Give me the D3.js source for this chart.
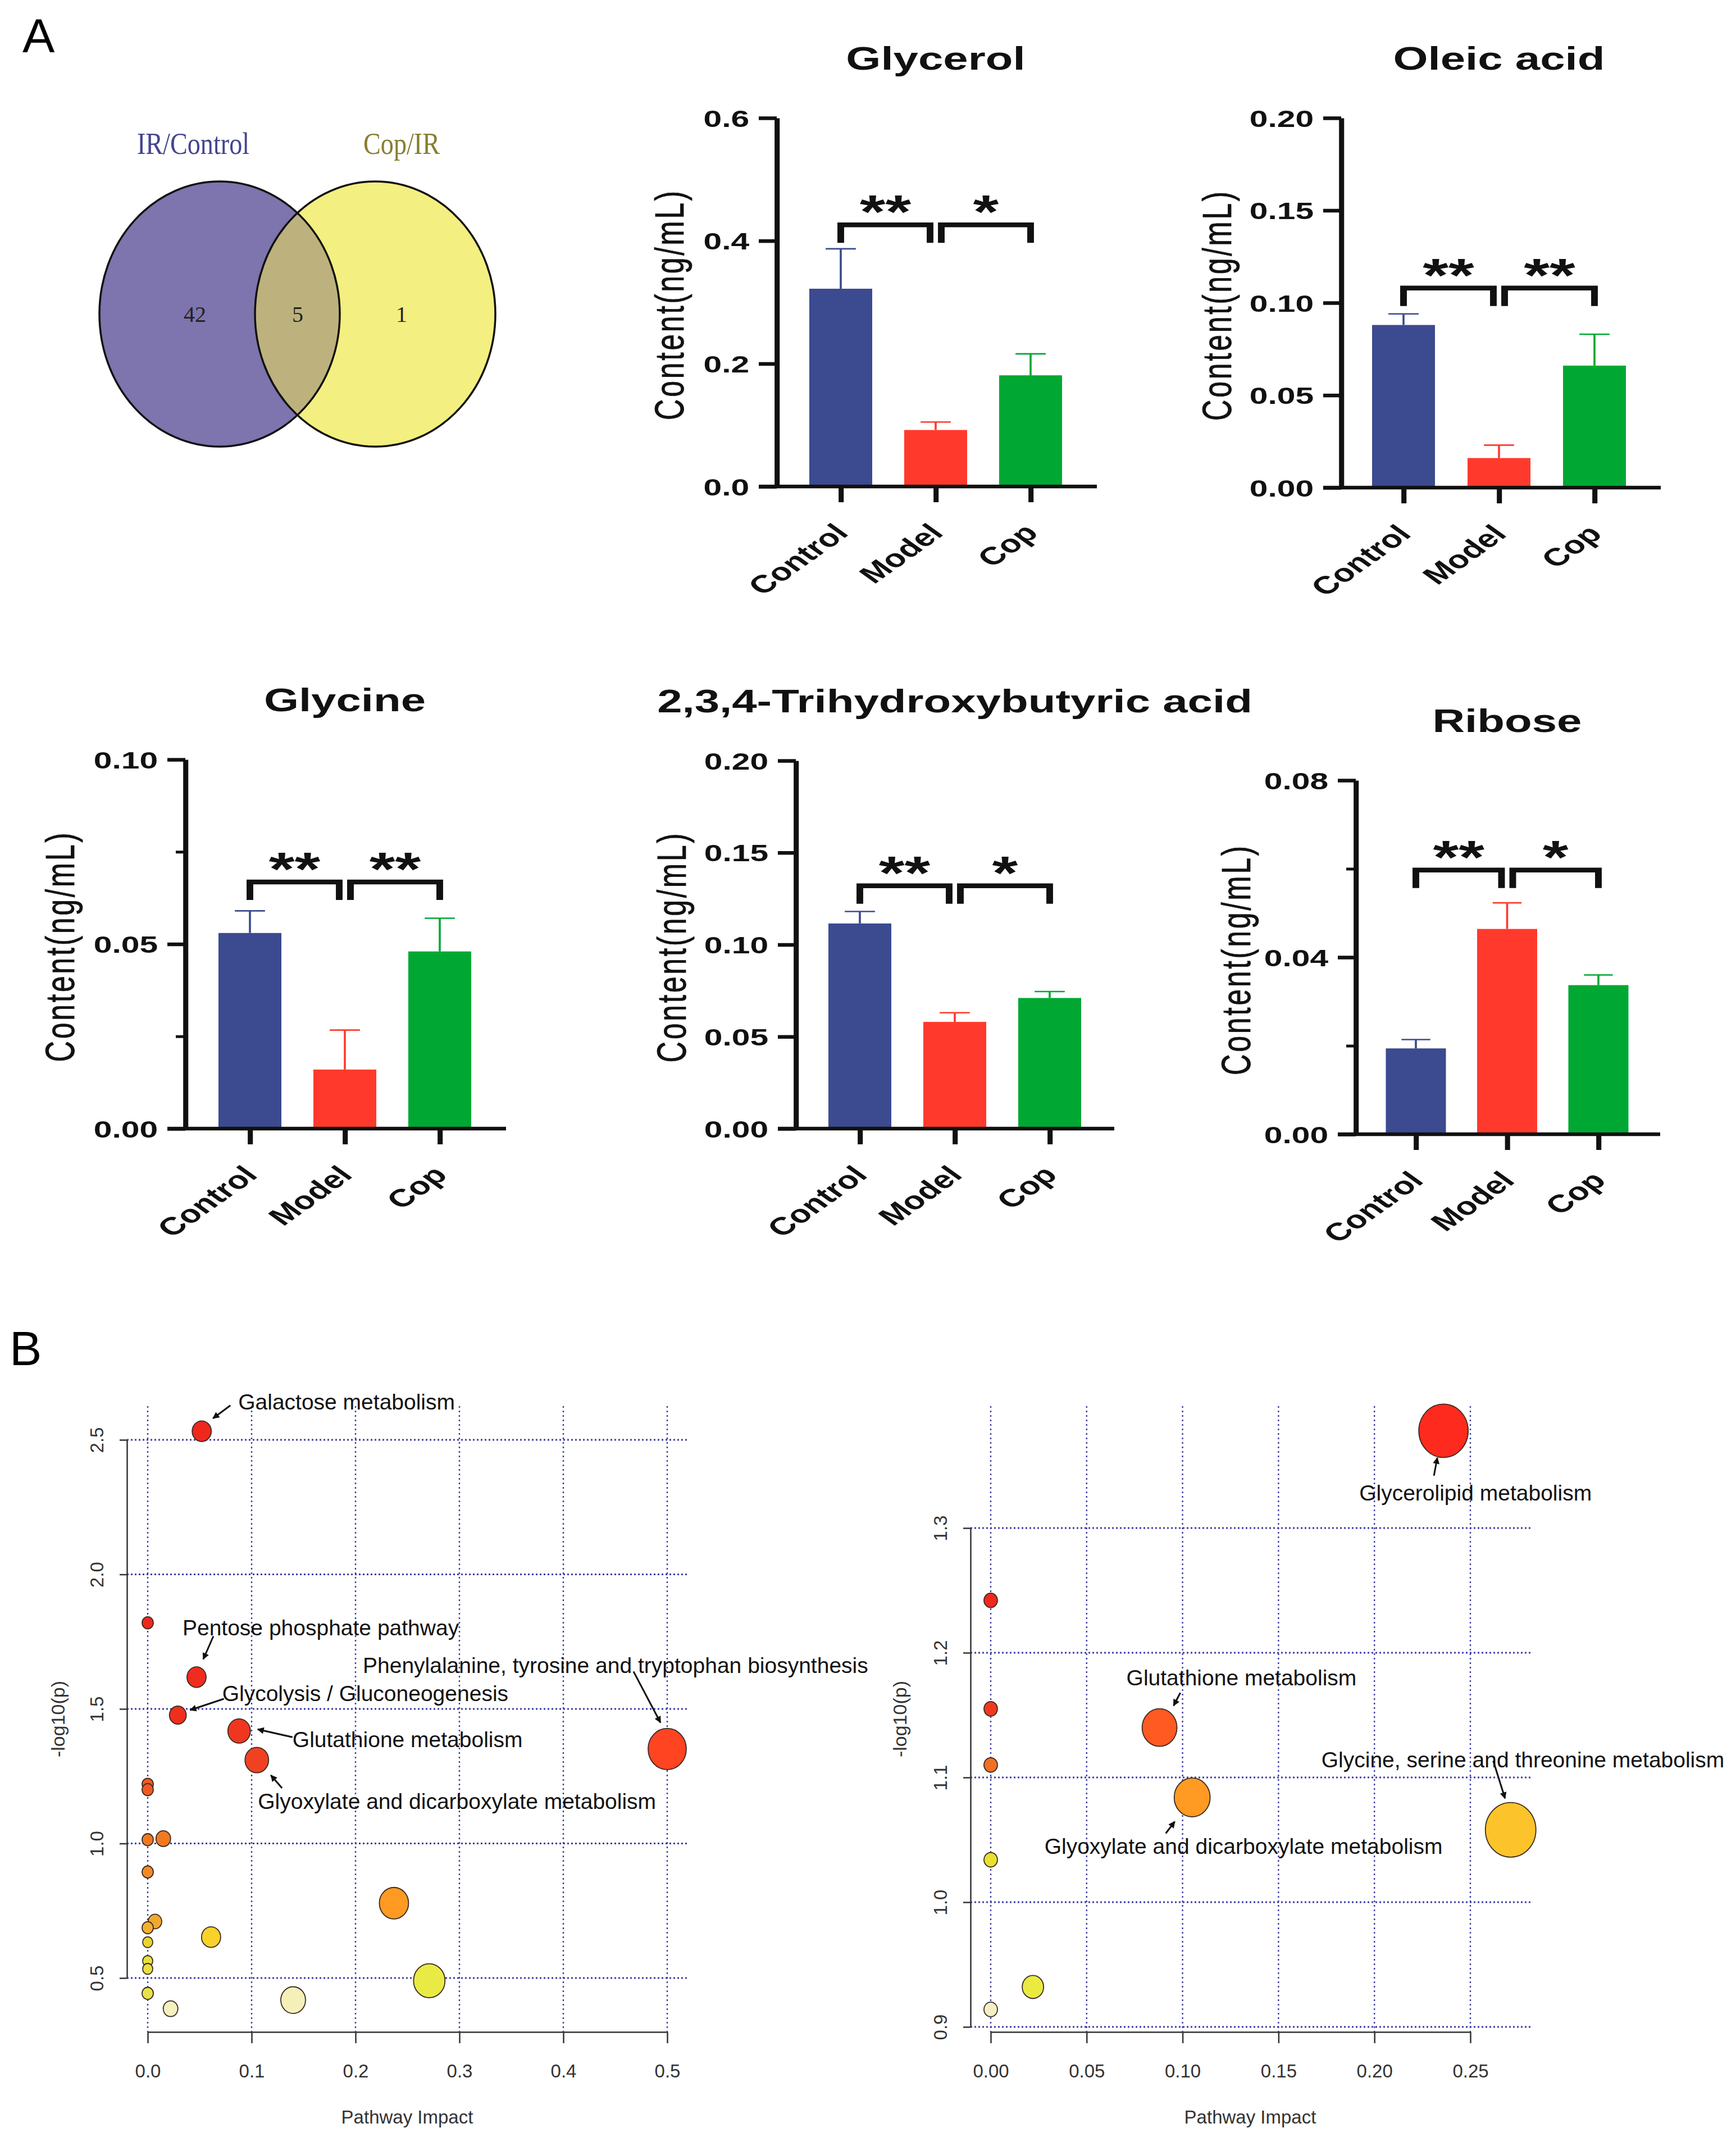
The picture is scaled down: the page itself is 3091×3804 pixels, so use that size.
<!DOCTYPE html>
<html>
<head>
<meta charset="utf-8">
<script src="https://cdn.jsdelivr.net/npm/d3@7"></script>
<style>
  body { margin: 0; background: #fff; }
  svg { display: block; }
</style>
</head>
<body>
<svg id="fig"></svg>
<script>
// ---- data ----
const vennSets = ["IR/Control", "Cop/IR"];
const vennCounts = [42, 5, 1];

const groups = ["Control", "Model", "Cop"];
const groupColors = ["#3c4a8f", "#ff3a2c", "#00a833"];

const glycerolMean = [0.322, 0.092, 0.181];
const glycerolErr = [0.065, 0.013, 0.035];
const oleicMean = [0.088, 0.016, 0.066];
const oleicErr = [0.006, 0.007, 0.017];
const glycineMean = [0.053, 0.016, 0.048];
const glycineErr = [0.006, 0.0107, 0.009];
const thbaMean = [0.1115, 0.058, 0.071];
const thbaErr = [0.0065, 0.005, 0.0035];
const riboseMean = [0.0194, 0.0464, 0.0337];
const riboseErr = [0.002, 0.0059, 0.0023];

const glycerolSig = ["**", "*"];
const oleicSig = ["**", "**"];
const glycineSig = ["**", "**"];
const thbaSig = ["**", "*"];
const riboseSig = ["**", "*"];

// bubble plots (pathway impact, -log10 p, node size)
const leftImpact = [0.052, 0, 0.047, 0.029, 0.088, 0.105, 0.5, 0, 0, 0, 0.015, 0, 0.007, 0, 0, 0, 0, 0, 0.022, 0.061, 0.237, 0.271, 0.14];
const leftLogP = [2.532, 1.82, 1.618, 1.477, 1.418, 1.31, 1.351, 1.22, 1.2, 1.014, 1.018, 0.894, 0.71, 0.687, 0.633, 0.563, 0.534, 0.443, 0.386, 0.652, 0.778, 0.49, 0.418];
const leftSize = [17, 10, 17, 15, 20, 21, 34, 10, 10, 10, 13, 10, 12, 10, 9, 9, 9, 10, 13, 17, 26, 28, 22];
const leftFill = ["#f0281c", "#f0281c", "#f02c1e", "#f02e1e", "#f0361f", "#f04222", "#ff4422", "#f05a22", "#f05a22", "#f07822", "#f07a22", "#f08a24", "#f0a830", "#f0b030", "#e8d432", "#e8e040", "#e8e040", "#e8e24a", "#f5f0c0", "#f8d228", "#ff9a22", "#eaea44", "#f5f0b8"];
const leftNames = ["Galactose metabolism", "Pentose phosphate pathway", "Glycolysis / Gluconeogenesis", "Glutathione metabolism", "Glyoxylate and dicarboxylate metabolism", "Phenylalanine, tyrosine and tryptophan biosynthesis"];
const leftNameIdx = [0, 2, 3, 4, 5, 6];

const rightImpact = [0.236, 0, 0, 0, 0.088, 0.105, 0.271, 0, 0.022, 0];
const rightLogP = [1.378, 1.242, 1.155, 1.11, 1.14, 1.084, 1.058, 1.034, 0.932, 0.914];
const rightSize = [44, 12, 12, 12, 31, 32, 45, 12, 19, 12];
const rightFill = ["#ff2a1e", "#f0281c", "#f03a20", "#f07024", "#ff5a22", "#ff9a22", "#fcc42a", "#e8e030", "#eaea40", "#f5f0c4"];
const rightNames = ["Glycerolipid metabolism", "Glutathione metabolism", "Glyoxylate and dicarboxylate metabolism", "Glycine, serine and threonine metabolism"];
const rightNameIdx = [0, 4, 5, 6];

// ---- layout ----
const W = 3091, H = 3804;
const SX = 1.4; // bar panels are horizontally stretched
const svg = d3.select("#fig").attr("width", W).attr("height", H);
svg.append("rect").attr("width", W).attr("height", H).attr("fill", "#fff");

svg.append("text").attr("x", 40).attr("y", 93).text("A")
    .attr("font-family", "Liberation Sans, Arial").attr("font-size", 86);
svg.append("text").attr("x", 17).attr("y", 2430).text("B")
    .attr("font-family", "Liberation Sans, Arial").attr("font-size", 86);

// ---- venn ----
const venn = [{cx: 391, fill: "#7e74ae"}, {cx: 668, fill: "#f3ef80"}];
const vcy = 559, vrx = 214, vry = 236;
svg.append("clipPath").attr("id", "rightSet")
    .append("ellipse").attr("cx", venn[1].cx).attr("cy", vcy).attr("rx", vrx).attr("ry", vry);
svg.selectAll("ellipse.set").data(venn).join("ellipse")
    .attr("class", "set")
    .attr("cx", d => d.cx).attr("cy", vcy).attr("rx", vrx).attr("ry", vry)
    .attr("fill", d => d.fill);
svg.append("ellipse")
    .attr("cx", venn[0].cx).attr("cy", vcy).attr("rx", vrx).attr("ry", vry)
    .attr("fill", "#bdb27d").attr("clip-path", "url(#rightSet)");
svg.selectAll("ellipse.edge").data(venn).join("ellipse")
    .attr("class", "edge")
    .attr("cx", d => d.cx).attr("cy", vcy).attr("rx", vrx).attr("ry", vry)
    .attr("fill", "none").attr("stroke", "#111").attr("stroke-width", 3.5);

svg.selectAll("text.vset").data(vennSets).join("text")
    .attr("class", "vset")
    .attr("transform", (d, i) => `translate(${[344, 715][i]},274) scale(0.84,1)`)
    .attr("text-anchor", "middle")
    .attr("font-family", "Liberation Serif, serif").attr("font-size", 55)
    .attr("fill", (d, i) => ["#45458f", "#867f30"][i])
    .text(d => d);
svg.selectAll("text.vnum").data(vennCounts).join("text")
    .attr("class", "vnum")
    .attr("x", (d, i) => [347, 530, 715][i]).attr("y", vcy + 14)
    .attr("text-anchor", "middle")
    .attr("font-family", "Liberation Serif, serif").attr("font-size", 40)
    .attr("fill", "#222")
    .text(d => d);

// ---- bar panels ----
const panels = [
  {title: "Glycerol", mean: glycerolMean, err: glycerolErr, sig: glycerolSig, level: 0.426, yMax: 0.6, major: [0, 0.2, 0.4, 0.6], minor: [], fmt: ".1f"},
  {title: "Oleic acid", mean: oleicMean, err: oleicErr, sig: oleicSig, level: 0.108, yMax: 0.2, major: [0, 0.05, 0.1, 0.15, 0.2], minor: [], fmt: ".2f"},
  {title: "Glycine", mean: glycineMean, err: glycineErr, sig: glycineSig, level: 0.0668, yMax: 0.1, major: [0, 0.05, 0.1], minor: [0.025, 0.075], fmt: ".2f"},
  {title: "2,3,4-Trihydroxybutyric acid", mean: thbaMean, err: thbaErr, sig: thbaSig, level: 0.132, yMax: 0.2, major: [0, 0.05, 0.1, 0.15, 0.2], minor: [], fmt: ".2f"},
  {title: "Ribose", mean: riboseMean, err: riboseErr, sig: riboseSig, level: 0.0597, yMax: 0.08, major: [0, 0.04, 0.08], minor: [0.02, 0.06], fmt: ".2f"}
];
const panelLayout = [
  {x0: 1383, y0: 866, yTop: 210, span: [114, 452], barW: 112, lab: -190, axEnd: 570},
  {x0: 2388, y0: 868, yTop: 210, span: [111, 451], barW: 112, lab: -220, axEnd: 569},
  {x0: 330, y0: 2009, yTop: 1352, span: [115, 453], barW: 112, lab: -222, axEnd: 571},
  {x0: 1417, y0: 2009, yTop: 1354, span: [114, 452], barW: 112, lab: -220, axEnd: 567},
  {x0: 2414, y0: 2019, yTop: 1389, span: [107, 432], barW: 107, lab: -212, axEnd: 542}
];
const sans = "Liberation Sans, Arial, sans-serif";

function drawBar(p, L) {
  const g = svg.append("g").attr("transform", `translate(${L.x0},0) scale(${SX},1)`);
  const x = d3.scalePoint().domain(groups).range([L.span[0] / SX, L.span[1] / SX]);
  const y = d3.scaleLinear().domain([0, p.yMax]).range([L.y0, L.yTop]);
  const bw = L.barW / SX;

  // bars
  g.selectAll("rect.bar").data(p.mean).join("rect")
      .attr("class", "bar")
      .attr("x", (d, i) => x(groups[i]) - bw / 2)
      .attr("y", d => y(d))
      .attr("width", bw)
      .attr("height", d => L.y0 - y(d))
      .attr("fill", (d, i) => groupColors[i]);

  // error bars (upper half only)
  const eb = g.selectAll("g.err").data(p.mean).join("g").attr("class", "err")
      .attr("stroke", (d, i) => groupColors[i]).attr("stroke-width", 2.6);
  eb.append("line")
      .attr("x1", (d, i) => x(groups[i])).attr("x2", (d, i) => x(groups[i]))
      .attr("y1", d => y(d)).attr("y2", (d, i) => y(d + p.err[i]));
  eb.append("line")
      .attr("x1", (d, i) => x(groups[i]) - bw * 0.24).attr("x2", (d, i) => x(groups[i]) + bw * 0.24)
      .attr("y1", (d, i) => y(d + p.err[i])).attr("y2", (d, i) => y(d + p.err[i]));

  // y axis
  const ya = g.append("g")
      .call(d3.axisLeft(y).tickValues(p.major).tickSize(32 / SX).tickSizeOuter(0)
          .tickPadding(12).tickFormat(d3.format(p.fmt)));
  ya.selectAll("path, line").attr("stroke", "#111").attr("stroke-width", 6.5);
  ya.selectAll("text").attr("font-family", sans).attr("font-weight", "bold")
      .attr("font-size", 42).attr("fill", "#111").attr("dy", "0.36em");
  if (p.minor.length) {
    const ym = g.append("g")
        .call(d3.axisLeft(y).tickValues(p.minor).tickSize(17 / SX).tickFormat(""));
    ym.select(".domain").remove();
    ym.selectAll("line").attr("stroke", "#111").attr("stroke-width", 5);
  }

  // x axis
  g.append("line").attr("x1", -32 / SX).attr("x2", L.axEnd / SX)
      .attr("y1", L.y0).attr("y2", L.y0)
      .attr("stroke", "#111").attr("stroke-width", 6.5);
  const xa = g.append("g").attr("transform", `translate(0,${L.y0})`)
      .call(d3.axisBottom(x).tickSize(28).tickSizeOuter(0));
  xa.select(".domain").remove();
  xa.selectAll("line").attr("stroke", "#111").attr("stroke-width", 6.5);
  xa.selectAll("text")
      .attr("y", 0).attr("dy", 0)
      .attr("text-anchor", "end")
      .attr("transform", "translate(11,85) rotate(-45)")
      .attr("font-family", sans).attr("font-weight", "bold")
      .attr("font-size", 44).attr("fill", "#111");

  // title
  g.append("text").attr("x", x("Model")).attr("y", L.yTop - 86)
      .attr("text-anchor", "middle")
      .attr("font-family", sans).attr("font-weight", "bold").attr("font-size", 57)
      .attr("fill", "#111").text(p.title);

  // y label
  g.append("text")
      .attr("transform", `translate(${L.lab / SX},${(L.y0 + L.yTop) / 2 + 6}) rotate(-90)`)
      .attr("text-anchor", "middle").attr("dy", "0.33em")
      .attr("font-family", sans).attr("font-size", 52).attr("fill", "#111")
      .attr("stroke", "#111").attr("stroke-width", 0.6)
      .attr("textLength", 408).attr("lengthAdjust", "spacing")
      .text("Content(ng/mL)");

  // significance brackets
  const by = y(p.level);
  const gap = 10 / SX;
  const br = [[x("Control"), x("Model") - gap], [x("Model") + gap, x("Cop")]];
  g.selectAll("path.br").data(br).join("path")
      .attr("class", "br")
      .attr("d", d => `M${d[0]},${by + 32}V${by}H${d[1]}V${by + 32}`)
      .attr("fill", "none").attr("stroke", "#111").attr("stroke-width", 8.5);
  g.selectAll("text.sig").data(p.sig).join("text")
      .attr("class", "sig")
      .attr("x", (d, i) => (br[i][0] + br[i][1]) / 2)
      .attr("y", by + 6)
      .attr("text-anchor", "middle")
      .attr("font-family", sans).attr("font-weight", "bold").attr("font-size", 84)
      .attr("fill", "#111").text(d => d);
}
panels.forEach((p, i) => drawBar(p, panelLayout[i]));

// ---- bubble plots ----
const marker = svg.append("defs").append("marker")
    .attr("id", "arr").attr("viewBox", "0 0 10 10").attr("refX", 9).attr("refY", 5)
    .attr("markerWidth", 14).attr("markerHeight", 12).attr("markerUnits", "userSpaceOnUse")
    .attr("orient", "auto");
marker.append("path").attr("d", "M0,0L10,5L0,10z").attr("fill", "#111");

const bubbleLayout = [
  {impact: leftImpact, logp: leftLogP, size: leftSize, fill: leftFill, names: leftNames, idx: leftNameIdx,
   xDom: [0, 0.5], xRange: [263, 1188], yDom: [0.5, 2.5], yRange: [3521, 2563],
   xTicks: [0, 0.1, 0.2, 0.3, 0.4, 0.5], yTicks: [0.5, 1, 1.5, 2, 2.5], xFmt: ".1f", yFmt: ".1f",
   axisX: 226, axisY: 3617, gridL: 226, gridR: 1226, gridTop: 2503, ylabX: 103, xlabX: 725,
   notes: [
     {tx: 65, ty: -39, a: [51, -46, 20, -23]},
     {tx: -25, ty: -74, a: [30, -73, 12, -32]},
     {tx: 79, ty: -25, a: [82, -29, 22, -9]},
     {tx: 95, ty: 29, a: [95, 11, 33, -3]},
     {tx: 2, ty: 87, a: [45, 50, 25, 27]},
     {tx: -542, ty: -135, a: [-60, -138, -12, -47]}
   ]},
  {impact: rightImpact, logp: rightLogP, size: rightSize, fill: rightFill, names: rightNames, idx: rightNameIdx,
   xDom: [0, 0.25], xRange: [1764, 2618], yDom: [0.9, 1.3], yRange: [3608, 2720],
   xTicks: [0, 0.05, 0.1, 0.15, 0.2, 0.25], yTicks: [0.9, 1.0, 1.1, 1.2, 1.3], xFmt: ".2f", yFmt: ".1f",
   axisX: 1728, axisY: 3617, gridL: 1728, gridR: 2728, gridTop: 2503, ylabX: 1602, xlabX: 2226,
   notes: [
     {tx: -150, ty: 124, a: [-17, 80, -11, 48]},
     {tx: -59, ty: -75, a: [37, -62, 25, -39]},
     {tx: -263, ty: 100, a: [-47, 64, -31, 43]},
     {tx: -337, ty: -111, a: [-31, -123, -10, -56]}
   ]}
];

function drawBubble(B) {
  const x = d3.scaleLinear().domain(B.xDom).range(B.xRange);
  const y = d3.scaleLinear().domain(B.yDom).range(B.yRange);
  const g = svg.append("g");

  // dotted grid
  g.selectAll("line.vg").data(B.xTicks).join("line").attr("class", "vg")
      .attr("x1", d => x(d)).attr("x2", d => x(d))
      .attr("y1", B.gridTop).attr("y2", B.axisY)
      .attr("stroke", "#3d3da6").attr("stroke-width", 2.4).attr("stroke-dasharray", "3,5");
  g.selectAll("line.hg").data(B.yTicks).join("line").attr("class", "hg")
      .attr("x1", B.gridL).attr("x2", B.gridR)
      .attr("y1", d => y(d)).attr("y2", d => y(d))
      .attr("stroke", "#3d3da6").attr("stroke-width", 2.8).attr("stroke-dasharray", "3,4");

  // axes
  const ya = g.append("g").attr("transform", `translate(${B.axisX},0)`)
      .call(d3.axisLeft(y).tickValues(B.yTicks).tickSize(13).tickSizeOuter(0).tickFormat(d3.format(B.yFmt)));
  ya.selectAll("path, line").attr("stroke", "#333").attr("stroke-width", 2.5);
  ya.selectAll("text")
      .attr("transform", "rotate(-90)").attr("x", 0).attr("y", -42).attr("dy", 0)
      .attr("text-anchor", "middle")
      .attr("font-family", sans).attr("font-size", 33).attr("fill", "#333");
  const xa = g.append("g").attr("transform", `translate(0,${B.axisY})`)
      .call(d3.axisBottom(x).tickValues(B.xTicks).tickSize(20).tickSizeOuter(0)
          .tickPadding(38).tickFormat(d3.format(B.xFmt)));
  xa.selectAll("path, line").attr("stroke", "#333").attr("stroke-width", 2.5);
  xa.selectAll("text").attr("font-family", sans).attr("font-size", 33).attr("fill", "#333");

  g.append("text").attr("x", B.xlabX).attr("y", 3780).attr("text-anchor", "middle")
      .attr("font-family", sans).attr("font-size", 33).attr("fill", "#333").text("Pathway Impact");
  g.append("text").attr("transform", `translate(${B.ylabX},3060) rotate(-90)`)
      .attr("text-anchor", "middle").attr("dy", "0.35em")
      .attr("font-family", sans).attr("font-size", 34).attr("fill", "#333").text("-log10(p)");

  // bubbles
  const pts = B.impact.map((v, i) => ({x: v, y: B.logp[i], r: B.size[i], c: B.fill[i]}));
  g.selectAll("ellipse.node").data(pts).join("ellipse").attr("class", "node")
      .attr("cx", d => x(d.x)).attr("cy", d => y(d.y))
      .attr("rx", d => d.r).attr("ry", d => d.r * 1.08)
      .attr("fill", d => d.c).attr("stroke", "#3a2a22").attr("stroke-width", 1.8);

  // annotations
  B.names.forEach((name, k) => {
    const d = pts[B.idx[k]];
    const cx = x(d.x), cy = y(d.y);
    const n = B.notes[k];
    g.append("text").attr("x", cx + n.tx).attr("y", cy + n.ty)
        .attr("font-family", sans).attr("font-size", 39).attr("fill", "#111").text(name);
    g.append("line")
        .attr("x1", cx + n.a[0]).attr("y1", cy + n.a[1])
        .attr("x2", cx + n.a[2]).attr("y2", cy + n.a[3])
        .attr("stroke", "#111").attr("stroke-width", 3).attr("marker-end", "url(#arr)");
  });
}
bubbleLayout.forEach(drawBubble);
</script>
</body>
</html>
